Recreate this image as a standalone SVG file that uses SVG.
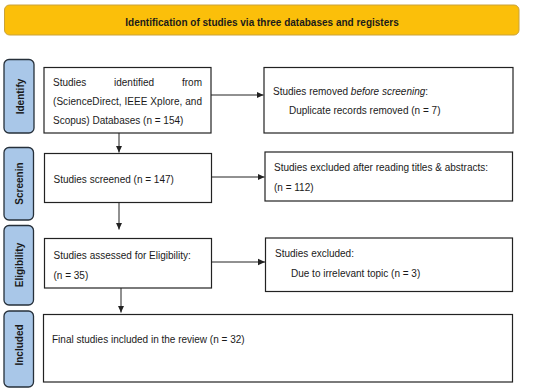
<svg xmlns="http://www.w3.org/2000/svg" width="550" height="392" viewBox="0 0 550 392">
<defs>
<style>
text{font-family:"Liberation Sans",Arial,sans-serif;font-size:10px;fill:#1a1a1a}
.b{font-weight:bold}
.box{fill:#fff;stroke:#222;stroke-width:1.2}
.side{fill:#a9c7e8;stroke:#26303a;stroke-width:1.3}
.ln{stroke:#222;stroke-width:1;fill:none;marker-end:url(#ah)}
</style>
<marker id="ah" markerWidth="8" markerHeight="8" refX="7" refY="4" orient="auto" markerUnits="userSpaceOnUse">
<path d="M0,0.8 L7,4 L0,7.2 Z" fill="#222"/>
</marker>
</defs>
<rect width="550" height="392" fill="#fff"/>
<g id="header">
<rect x="4.5" y="5" width="514.5" height="30" rx="5" fill="#fbbf0a" stroke="#c9a23a" stroke-width="1"/>
<text class="b" x="262" y="25.5" text-anchor="middle">Identification of studies via three databases and registers</text>
</g>
<g id="side-identify">
<rect class="side" x="4" y="59.5" width="30" height="73.5" rx="5"/>
<text class="b" transform="translate(23.5,96.5) rotate(-90)" text-anchor="middle">Identify</text>
</g>
<g id="side-screening">
<rect class="side" x="4" y="147.5" width="29.5" height="72.5" rx="5"/>
<text class="b" transform="translate(23,183.5) rotate(-90)" text-anchor="middle">Screenin</text>
</g>
<g id="side-eligibility">
<rect class="side" x="4" y="225.5" width="29.5" height="79.5" rx="5"/>
<text class="b" transform="translate(23,265) rotate(-90)" text-anchor="middle">Eligibility</text>
</g>
<g id="side-included">
<rect class="side" x="4" y="311" width="29.5" height="76" rx="5"/>
<text class="b" transform="translate(23,345) rotate(-90)" text-anchor="middle">Included</text>
</g>
<g id="identified">
<rect class="box" x="44" y="67.5" width="167" height="65.5"/>
<text x="53" y="85.5">Studies</text>
<text x="114" y="85.5">identified</text>
<text x="202" y="85.5" text-anchor="end">from</text>
<text x="53" y="104.5" textLength="149" lengthAdjust="spacing">(ScienceDirect, IEEE Xplore, and</text>
<text x="53" y="123.5">Scopus) Databases (n = 154)</text>
</g>
<g id="removed">
<rect class="box" x="264" y="67.5" width="249" height="65.5"/>
<text x="273" y="94.5">Studies removed <tspan font-style="italic">before screening</tspan>:</text>
<text x="289" y="113.5">Duplicate records removed (n = 7)</text>
</g>
<g id="screened">
<rect class="box" x="44.5" y="153.5" width="167" height="49"/>
<text x="53.5" y="182.5">Studies screened (n = 147)</text>
</g>
<g id="excluded1">
<rect class="box" x="265" y="152" width="247.5" height="49"/>
<text x="274" y="170.5">Studies excluded after reading titles &amp; abstracts:</text>
<text x="274" y="191">(n = 112)</text>
</g>
<g id="eligibility">
<rect class="box" x="44.5" y="238.5" width="167" height="49.5"/>
<text x="53.5" y="258.5">Studies assessed for Eligibility:</text>
<text x="53.5" y="278.5">(n = 35)</text>
</g>
<g id="excluded2">
<rect class="box" x="265.5" y="238" width="247" height="53.5"/>
<text x="275" y="256.5">Studies excluded:</text>
<text x="291" y="276.5">Due to irrelevant topic (n = 3)</text>
</g>
<g id="included">
<rect class="box" x="43.5" y="314.5" width="469" height="67.5"/>
<text x="52" y="342.5">Final studies included in the review (n = 32)</text>
</g>
<g id="connectors">
<line class="ln" x1="119" y1="133" x2="119" y2="152.5"/>
<line class="ln" x1="211" y1="95" x2="263.5" y2="95"/>
<line class="ln" x1="119" y1="202.5" x2="119" y2="229.5"/>
<line class="ln" x1="211.5" y1="177" x2="264.5" y2="177"/>
<line class="ln" x1="121" y1="288" x2="121" y2="312.5"/>
<line class="ln" x1="211.5" y1="262" x2="265" y2="262"/>
</g>
</svg>
